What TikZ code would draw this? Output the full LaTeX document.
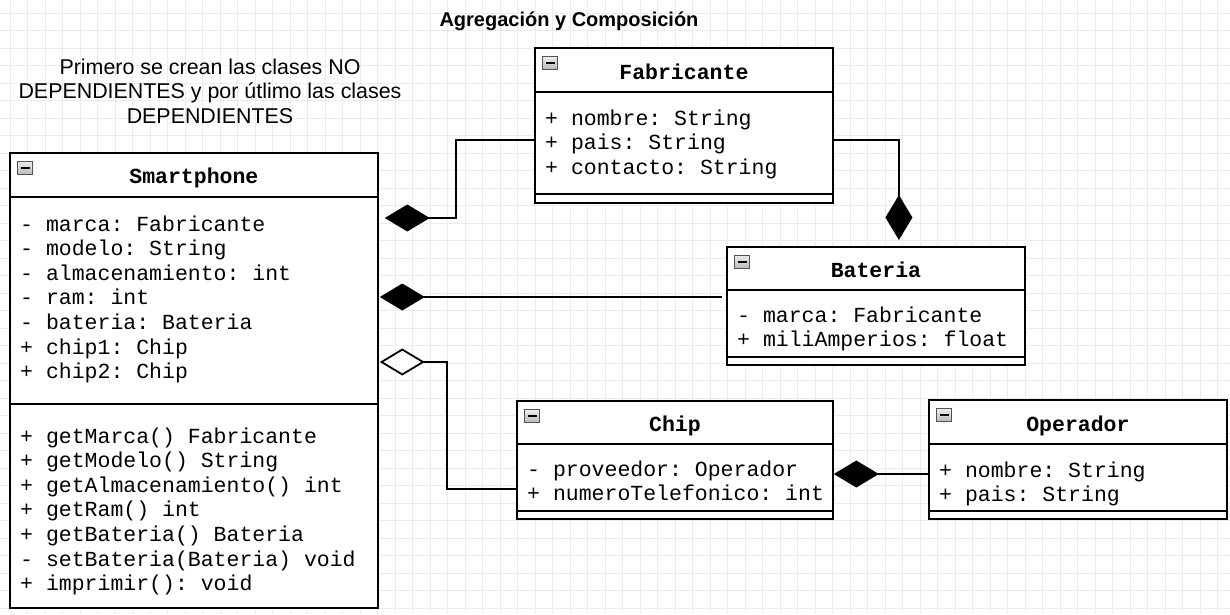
\documentclass[tikz,border=0pt]{standalone}
\usepackage{fontspec}
\setmainfont{Liberation Sans}
\newfontfamily\umlfont{Liberation Mono}
\usetikzlibrary{arrows.meta,positioning}

\begin{document}
\begin{tikzpicture}[x=1pt, y=-1pt,
classbox/.style={rectangle, draw=black, line width=1.8pt, fill=white, inner sep=0pt, anchor=north west},
classline/.style={draw=black, line width=1.8pt},
classname/.style={font=\umlfont\bfseries\fontsize{21.5}{24.6}\selectfont, anchor=base, inner sep=0pt},
member/.style={font=\umlfont\fontsize{21.5}{24.6}\selectfont\frenchspacing, align=left, anchor=base west, inner sep=0pt},
gridline/.style={draw=gray!15, line width=0.8pt},
comp/.style={line width=1.8pt, -{Diamond[length=45pt, width=27pt]}},
aggr/.style={line width=1.8pt, -{Diamond[open, fill=white, length=45pt, width=27pt]}},
foldicon/.pic={
\draw[draw=gray!65!black, top color=gray!15, bottom color=gray!55, line width=1pt] (0,0) rectangle (15,13);
\draw[line width=2.2pt] (3,6.5) -- (12,6.5);
}]
%Background
\useasboundingbox (0,0) rectangle (1230,614);
\fill[white] (0,0) rectangle (1230,614);
\foreach \gx in {10,27.5,...,1230} {\draw[gridline] (\gx,0) -- (\gx,614);}
\foreach \gy in {13,30.5,...,614} {\draw[gridline] (0,\gy) -- (1230,\gy);}

%Texts (base = last line)
\node[font=\bfseries\fontsize{20}{24}\selectfont, anchor=base, inner sep=0pt] (title) at (569,26) {Agregación y Composición};
\node[font=\fontsize{21.4}{24.5}\selectfont, align=center, anchor=base, inner sep=0pt] (note) at (210,123)
{Primero se crean las clases NO\\DEPENDIENTES y por útlimo las clases\\DEPENDIENTES};

%Classes
\node[classbox, minimum width=368pt, minimum height=455pt] (smart) at (9,152) {};
\node[classbox, minimum width=298pt, minimum height=155pt] (fab)   at (534,47) {};
\node[classbox, minimum width=298pt, minimum height=118pt] (bat)   at (726,246) {};
\node[classbox, minimum width=316pt, minimum height=118pt] (chip)  at (516,400) {};
\node[classbox, minimum width=298pt, minimum height=119pt] (op)    at (928,399) {};

%Compartments
\draw[classline] ([yshift=-45pt]smart.north west) -- ([yshift=-45pt]smart.north east);
\draw[classline] ([yshift=-252pt]smart.north west) -- ([yshift=-252pt]smart.north east);
\draw[classline] ([yshift=-45pt]fab.north west) -- ([yshift=-45pt]fab.north east);
\draw[classline] ([yshift=-147pt]fab.north west) -- ([yshift=-147pt]fab.north east);
\draw[classline] ([yshift=-44pt]bat.north west) -- ([yshift=-44pt]bat.north east);
\draw[classline] ([yshift=-111pt]bat.north west) -- ([yshift=-111pt]bat.north east);
\draw[classline] ([yshift=-44pt]chip.north west) -- ([yshift=-44pt]chip.north east);
\draw[classline] ([yshift=-111pt]chip.north west) -- ([yshift=-111pt]chip.north east);
\draw[classline] ([yshift=-45pt]op.north west) -- ([yshift=-45pt]op.north east);
\draw[classline] ([yshift=-112pt]op.north west) -- ([yshift=-112pt]op.north east);

%Icons
\pic at ([xshift=8.5pt, yshift=-9.5pt]smart.north west) {foldicon};
\pic at ([xshift=8.5pt, yshift=-9.5pt]fab.north west) {foldicon};
\pic at ([xshift=8.5pt, yshift=-9.5pt]bat.north west) {foldicon};
\pic at ([xshift=8.5pt, yshift=-9.5pt]chip.north west) {foldicon};
\pic at ([xshift=8.5pt, yshift=-9.5pt]op.north west) {foldicon};

%Names
\node[classname] (smartname) at ([yshift=-31pt]smart.north) {Smartphone};
\node[classname] (fabname)   at ([yshift=-32pt]fab.north) {Fabricante};
\node[classname] (batname)   at ([yshift=-31pt]bat.north) {Bateria};
\node[classname] (chipname)  at ([yshift=-31pt]chip.north) {Chip};
\node[classname] (opname)    at ([yshift=-32pt]op.north) {Operador};

%Members (base = last line)
\node[member] (smartattr) at ([xshift=11pt, yshift=-226.6pt]smart.north west)
{- marca: Fabricante\\- modelo: String\\- almacenamiento: int\\- ram: int\\- bateria: Bateria\\+ chip1: Chip\\+ chip2: Chip};
\node[member] (smartops) at ([xshift=11pt, yshift=-438.6pt]smart.north west)
{+ getMarca() Fabricante\\+ getModelo() String\\+ getAlmacenamiento() int\\+ getRam() int\\+ getBateria() Bateria\\- setBateria(Bateria) void\\+ imprimir(): void};
\node[member] (fabattr) at ([xshift=11pt, yshift=-127.2pt]fab.north west)
{+ nombre: String\\+ pais: String\\+ contacto: String};
\node[member] (batattr) at ([xshift=11pt, yshift=-100.6pt]bat.north west)
{- marca: Fabricante\\+ miliAmperios: float};
\node[member] (chipattr) at ([xshift=11pt, yshift=-100.6pt]chip.north west)
{- proveedor: Operador\\+ numeroTelefonico: int};
\node[member] (opattr) at ([xshift=11pt, yshift=-102.6pt]op.north west)
{+ nombre: String\\+ pais: String};

%Lines
\draw[comp] ([yshift=-93pt]fab.north west) -- ++(-78,0) |- ([xshift=6pt, yshift=-66pt]smart.north east);
\draw[comp] ([yshift=-93pt]fab.north east) -| ([xshift=23pt, yshift=6pt]bat.north);
\draw[comp] ([xshift=-4pt, yshift=-51pt]bat.north west) -- ([xshift=1pt, yshift=-145pt]smart.north east);
\draw[aggr] ([yshift=-89pt]chip.north west) -- ++(-69,0) |- ([xshift=1pt, yshift=-210pt]smart.north east);
\draw[comp] ([yshift=-75pt]op.north west) -- ([yshift=-74pt]chip.north east);
\end{tikzpicture}
\end{document}
